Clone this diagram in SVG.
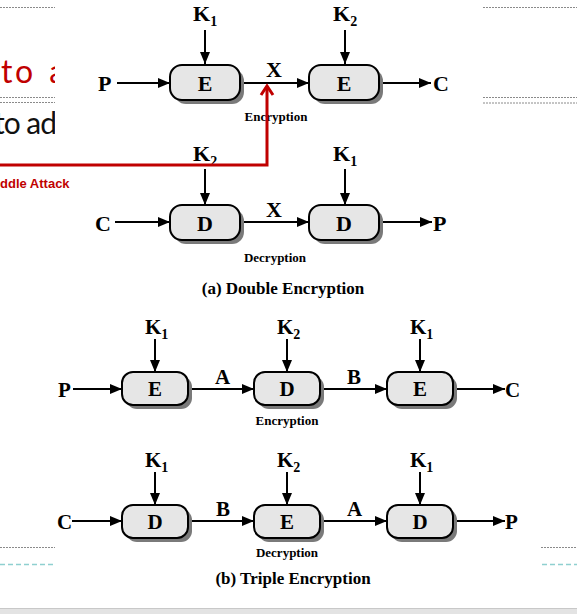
<svg xmlns="http://www.w3.org/2000/svg" width="577" height="614" viewBox="0 0 577 614">
<defs>
<style>
.lbl{font-family:"Liberation Serif",serif;font-weight:bold;fill:#000}
.big{font-size:22px}
.mid{font-size:21px}
.sub{font-size:14px}
.cap{font-size:13px}
.ttl{font-size:17px}
.box{fill:#e6e6e6;stroke:#000;stroke-width:2}
.shd{fill:#7a7a7a}
.ln{stroke:#000;stroke-width:2;fill:none}
.dot{stroke:#8a8a8a;stroke-width:1;stroke-dasharray:2 1;fill:none}
.cy{stroke:#8fd0d0;stroke-width:1.5;stroke-dasharray:5 3;fill:none}
</style>
<marker id="ah" viewBox="0 0 12 10" refX="12" refY="5" markerWidth="12" markerHeight="10" markerUnits="userSpaceOnUse" orient="auto">
<path d="M0,0 L12,5 L0,10 z" fill="#000"/>
</marker>
<clipPath id="lc"><rect x="0" y="0" width="55" height="614"/></clipPath>
</defs>
<rect width="577" height="614" fill="#fff"/>

<g id="slide-bg">
<line class="dot" x1="0" y1="7.5" x2="55" y2="7.5"/>
<line class="dot" x1="0" y1="97.5" x2="55" y2="97.5"/>
<line class="dot" x1="0" y1="102.5" x2="55" y2="102.5"/>
<line class="dot" x1="483" y1="7.5" x2="577" y2="7.5"/>
<line class="dot" x1="483" y1="97.5" x2="577" y2="97.5"/>
<line class="dot" x1="483" y1="103" x2="577" y2="103"/>
<line class="dot" x1="0" y1="547.5" x2="55" y2="547.5"/>
<line class="dot" x1="541" y1="547.5" x2="577" y2="547.5"/>
<line class="cy" x1="0" y1="564.5" x2="55" y2="564.5"/>
<line class="cy" x1="542" y1="564.5" x2="577" y2="564.5"/>
<g clip-path="url(#lc)">
<text x="1" y="83" font-family="Lato,sans-serif" font-size="32" letter-spacing="2.5" word-spacing="3" fill="#c00000">to a</text>
<text x="-6" y="134" font-family="Lato,sans-serif" font-size="30" letter-spacing="-1" fill="#111">to ad</text>
</g>
<text x="0" y="188" font-family="'Liberation Sans',sans-serif" font-weight="bold" font-size="13" fill="#c00000">ddle Attack</text>
<rect x="0" y="608" width="577" height="6" fill="#e3e3e3"/>
<line x1="0" y1="608.5" x2="577" y2="608.5" stroke="#c8c8c8" stroke-width="1"/>
</g>

<g id="connectors">
<line class="ln" x1="205" y1="30" x2="205" y2="64" marker-end="url(#ah)"/>
<line class="ln" x1="345" y1="30" x2="345" y2="64" marker-end="url(#ah)"/>
<line class="ln" x1="117" y1="83" x2="170" y2="83" marker-end="url(#ah)"/>
<line class="ln" x1="240" y1="83" x2="309" y2="83" marker-end="url(#ah)"/>
<line class="ln" x1="379" y1="83" x2="431" y2="83" marker-end="url(#ah)"/>
<line class="ln" x1="205" y1="169" x2="205" y2="205" marker-end="url(#ah)"/>
<line class="ln" x1="345" y1="169" x2="345" y2="205" marker-end="url(#ah)"/>
<line class="ln" x1="115" y1="222" x2="170" y2="222" marker-end="url(#ah)"/>
<line class="ln" x1="240" y1="222" x2="309" y2="222" marker-end="url(#ah)"/>
<line class="ln" x1="379" y1="222" x2="432" y2="222" marker-end="url(#ah)"/>

<line class="ln" x1="155" y1="339" x2="155" y2="372" marker-end="url(#ah)"/>
<line class="ln" x1="287" y1="339" x2="287" y2="372" marker-end="url(#ah)"/>
<line class="ln" x1="420" y1="339" x2="420" y2="372" marker-end="url(#ah)"/>
<line class="ln" x1="73" y1="389" x2="122" y2="389" marker-end="url(#ah)"/>
<line class="ln" x1="188" y1="389" x2="254" y2="389" marker-end="url(#ah)"/>
<line class="ln" x1="320" y1="389" x2="387" y2="389" marker-end="url(#ah)"/>
<line class="ln" x1="453" y1="389" x2="505" y2="389" marker-end="url(#ah)"/>

<line class="ln" x1="155" y1="472" x2="155" y2="505" marker-end="url(#ah)"/>
<line class="ln" x1="287" y1="472" x2="287" y2="505" marker-end="url(#ah)"/>
<line class="ln" x1="420" y1="472" x2="420" y2="505" marker-end="url(#ah)"/>
<line class="ln" x1="72" y1="521" x2="122" y2="521" marker-end="url(#ah)"/>
<line class="ln" x1="188" y1="521" x2="254" y2="521" marker-end="url(#ah)"/>
<line class="ln" x1="320" y1="521" x2="387" y2="521" marker-end="url(#ah)"/>
<line class="ln" x1="453" y1="521" x2="505" y2="521" marker-end="url(#ah)"/>
</g>

<g id="de-e1"><rect class="shd" x="174" y="69" width="70" height="35" rx="12"/><rect class="box" x="170" y="65" width="70" height="35" rx="12"/><text class="lbl big" x="205" y="91" text-anchor="middle">E</text></g>
<g id="de-e2"><rect class="shd" x="313" y="69" width="70" height="35" rx="12"/><rect class="box" x="309" y="65" width="70" height="35" rx="12"/><text class="lbl big" x="344" y="91" text-anchor="middle">E</text></g>
<g id="de-d1"><rect class="shd" x="174" y="209" width="70" height="35" rx="12"/><rect class="box" x="170" y="205" width="70" height="35" rx="12"/><text class="lbl big" x="205" y="231" text-anchor="middle">D</text></g>
<g id="de-d2"><rect class="shd" x="313" y="209" width="70" height="35" rx="12"/><rect class="box" x="309" y="205" width="70" height="35" rx="12"/><text class="lbl big" x="344" y="231" text-anchor="middle">D</text></g>

<g id="de-labels">
<text class="lbl big" x="193" y="21">K<tspan class="sub" dy="5">1</tspan></text>
<text class="lbl big" x="333" y="21">K<tspan class="sub" dy="5">2</tspan></text>
<text class="lbl big" x="98" y="91">P</text>
<text class="lbl big" x="266" y="77">X</text>
<text class="lbl big" x="433" y="91">C</text>
<text class="lbl cap" x="276" y="121" text-anchor="middle">Encryption</text>
<text class="lbl big" x="193" y="161">K<tspan class="sub" dy="5">2</tspan></text>
<text class="lbl big" x="333" y="161">K<tspan class="sub" dy="5">1</tspan></text>
<text class="lbl big" x="95" y="231">C</text>
<text class="lbl big" x="266" y="217">X</text>
<text class="lbl big" x="433" y="231">P</text>
<text class="lbl cap" x="275" y="262" text-anchor="middle">Decryption</text>
<text class="lbl ttl" x="283" y="294" text-anchor="middle">(a) Double Encryption</text>
</g>

<g id="attack">
<polyline points="0,165 267,165 267,87" fill="none" stroke="#c00000" stroke-width="3"/>
<polyline points="261,95 267,86 273,95" fill="none" stroke="#c00000" stroke-width="3"/>
</g>

<g id="te-e1"><rect class="shd" x="126" y="376" width="66" height="33" rx="11"/><rect class="box" x="122" y="372" width="66" height="33" rx="11"/><text class="lbl mid" x="155" y="396" text-anchor="middle">E</text></g>
<g id="te-d"><rect class="shd" x="258" y="376" width="66" height="33" rx="11"/><rect class="box" x="254" y="372" width="66" height="33" rx="11"/><text class="lbl mid" x="287" y="396" text-anchor="middle">D</text></g>
<g id="te-e2"><rect class="shd" x="391" y="376" width="66" height="33" rx="11"/><rect class="box" x="387" y="372" width="66" height="33" rx="11"/><text class="lbl mid" x="420" y="396" text-anchor="middle">E</text></g>
<g id="td-d1"><rect class="shd" x="126" y="509" width="66" height="33" rx="11"/><rect class="box" x="122" y="505" width="66" height="33" rx="11"/><text class="lbl mid" x="155" y="529" text-anchor="middle">D</text></g>
<g id="td-e"><rect class="shd" x="258" y="509" width="66" height="33" rx="11"/><rect class="box" x="254" y="505" width="66" height="33" rx="11"/><text class="lbl mid" x="287" y="529" text-anchor="middle">E</text></g>
<g id="td-d2"><rect class="shd" x="391" y="509" width="66" height="33" rx="11"/><rect class="box" x="387" y="505" width="66" height="33" rx="11"/><text class="lbl mid" x="420" y="529" text-anchor="middle">D</text></g>

<g id="te-labels">
<text class="lbl mid" x="145" y="334">K<tspan class="sub" dy="5">1</tspan></text>
<text class="lbl mid" x="277" y="334">K<tspan class="sub" dy="5">2</tspan></text>
<text class="lbl mid" x="410" y="334">K<tspan class="sub" dy="5">1</tspan></text>
<text class="lbl mid" x="58" y="397">P</text>
<text class="lbl mid" x="215" y="384">A</text>
<text class="lbl mid" x="347" y="384">B</text>
<text class="lbl mid" x="505" y="397">C</text>
<text class="lbl cap" x="287" y="425" text-anchor="middle">Encryption</text>
<text class="lbl mid" x="145" y="467">K<tspan class="sub" dy="5">1</tspan></text>
<text class="lbl mid" x="277" y="467">K<tspan class="sub" dy="5">2</tspan></text>
<text class="lbl mid" x="410" y="467">K<tspan class="sub" dy="5">1</tspan></text>
<text class="lbl mid" x="57" y="529">C</text>
<text class="lbl mid" x="216" y="516">B</text>
<text class="lbl mid" x="347" y="516">A</text>
<text class="lbl mid" x="505" y="529">P</text>
<text class="lbl cap" x="287" y="557" text-anchor="middle">Decryption</text>
<text class="lbl ttl" x="293" y="584" text-anchor="middle">(b) Triple Encryption</text>
</g>
</svg>
